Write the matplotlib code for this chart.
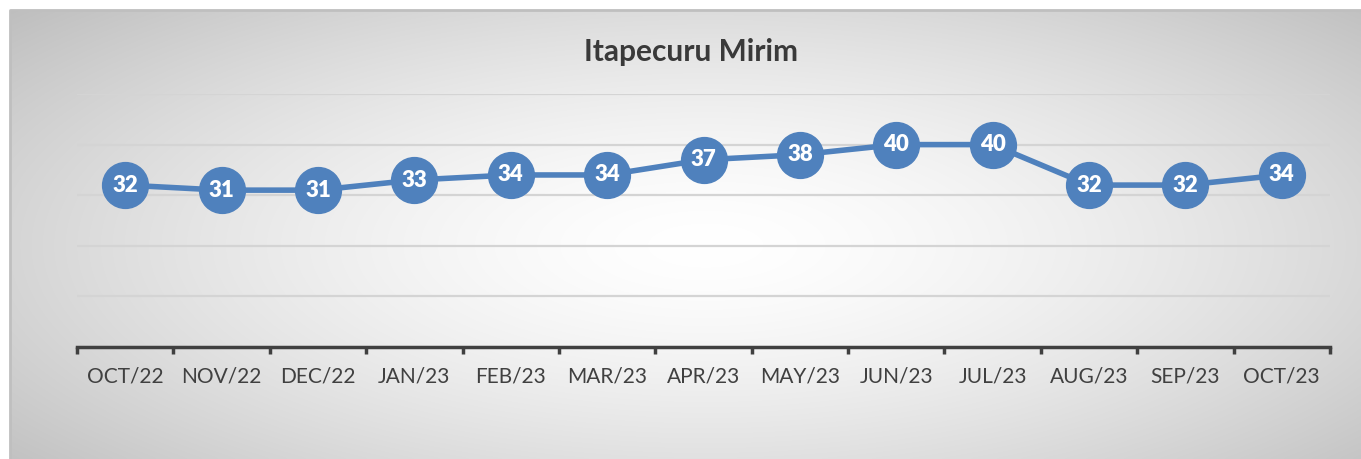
import numpy as np
import matplotlib
matplotlib.use("Agg")
import matplotlib.pyplot as plt

months = ["OCT/22", "NOV/22", "DEC/22", "JAN/23", "FEB/23", "MAR/23", "APR/23",
          "MAY/23", "JUN/23", "JUL/23", "AUG/23", "SEP/23", "OCT/23"]
values = [32, 31, 31, 33, 34, 34, 37, 38, 40, 40, 32, 32, 34]
title = "Itapecuru Mirim"

W, H, DPI = 1361, 459, 100
plt.rcParams["font.family"] = ["Lato", "DejaVu Sans"]

fig = plt.figure(figsize=(W / DPI, H / DPI), dpi=DPI)
fig.patch.set_facecolor("white")

# radial gradient background of the chart frame
bg = fig.add_axes([10 / W, 0, (W - 10) / W, (H - 10) / H])
bg.set_axis_off()
gx = np.linspace(-1, 1, 600)
gy = np.linspace(-1, 1, 200)
X, Y = np.meshgrid(gx, gy)
R = np.sqrt(((X - 0.03) / 1.0) ** 2 + ((Y - 0.05) / 1.15) ** 2)
shade = 1.0 - 0.26 * np.clip(R, 0, 1.4) ** 1.5 / 1.4 ** 1.5
bg.imshow(np.dstack([shade] * 3), aspect="auto", extent=[0, 1, 0, 1],
          interpolation="bicubic")
bg.set_xlim(0, 1)
bg.set_ylim(0, 1)
bg.plot([0, 0, 1], [0, 1, 1], color="#bfbfbf", lw=2, clip_on=False)

ax = fig.add_axes([77 / W, (H - 347) / H, (1330 - 77) / W, (347 - 94) / H])
ax.patch.set_alpha(0)
x = np.arange(len(months))
ax.set_xlim(-0.5, len(months) - 0.5)
ax.set_ylim(0, 50)
for yv in range(10, 51, 10):
    ax.axhline(yv, color="#d4d4d4", lw=1.6, zorder=1)

ax.plot(x, values, color="#4f81bd", lw=4, marker="o", ms=33,
        markerfacecolor="#4f81bd", markeredgecolor="#4f81bd", zorder=3)
for xi, v in zip(x, values):
    ax.text(xi, v, str(v), ha="center", va="center", color="white",
            fontsize=16, fontweight="heavy", zorder=4)

for s in ["left", "right", "top"]:
    ax.spines[s].set_visible(False)
ax.spines["bottom"].set_color("#404040")
ax.spines["bottom"].set_linewidth(2.5)
ax.set_yticks([])
ax.set_xticks(np.arange(-0.5, len(months), 1.0))
ax.set_xticklabels([])
ax.set_xticks(x, minor=True)
ax.set_xticklabels(months, minor=True)
ax.tick_params(axis="x", which="major", length=5, width=2.5, color="#404040")
ax.tick_params(axis="x", which="minor", length=0, pad=14, labelsize=15,
               labelcolor="#404040")

fig.text(691 / W, 1 - 52 / H, title, ha="center", va="center", fontsize=21.5,
         fontweight="bold", color="#3a3a3a")

fig.savefig("out.png", dpi=DPI)
